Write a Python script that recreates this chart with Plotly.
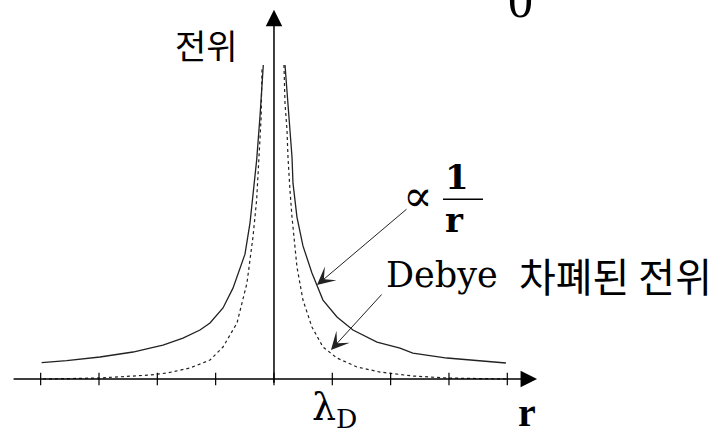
import plotly.graph_objects as go

# ---- data (r in units of lambda_D, V in arbitrary units) ----
coulomb_r = [-3.983, -3.554, -2.983, -2.417, -2.126, -1.903, -1.56, -1.269, -1.097, -0.874,
             -0.703, -0.497, -0.411, -0.297, -0.24, -0.183, None,
             0.189, 0.240, 0.274, 0.309, 0.326, 0.36, 0.394, 0.497, 0.651, 0.84, 1.08,
             1.354, 1.766, 2.16, 2.38, 2.966, 3.53, 3.976]
coulomb_v = [0.255, 0.286, 0.344, 0.422, 0.484, 0.531, 0.64, 0.766, 0.875, 1.11,
             1.42, 1.95, 2.44, 3.42, 4.10, 4.906, None,
             4.906, 4.31, 3.89, 3.47, 3.06, 2.80, 2.53, 2.08, 1.656, 1.234, 0.969,
             0.766, 0.578, 0.484, 0.406, 0.328, 0.281, 0.25]

debye_r = [-3.96, -2.983, -2.126, -1.834, -1.44, -1.097, -0.874, -0.634, -0.463, -0.36,
           -0.297, -0.22, -0.205, None,
           0.171, 0.189, 0.223, 0.24, 0.274, 0.309, 0.394, 0.497, 0.651, 0.84, 1.08,
           1.423, 1.817, 2.38, 2.966, 3.976]
debye_v = [0.0, 0.016, 0.0625, 0.094, 0.172, 0.297, 0.5, 0.875, 1.5, 2.22,
           2.80, 4.09, 4.88, None,
           4.906, 4.31, 3.89, 3.47, 2.95, 2.53, 1.75, 1.234, 0.8125, 0.5, 0.328,
           0.1875, 0.109, 0.047, 0.016, 0.0]

tick_values = [-4, -3, -2, -1, 0, 1, 2, 3, 4]

y_label = "전위"
x_label = "r"
debye_len_label = "λ<sub>D</sub>"
coulomb_label = "∝"
debye_word = "Debye"
screened_word = "차폐된\u00a0전위"
top_label = "0"

# ---- figure ----
fig = go.Figure()

fig.add_trace(go.Scatter(x=coulomb_r, y=coulomb_v, mode="lines",
                         line=dict(color="#222", width=1.3), connectgaps=False,
                         hoverinfo="skip", showlegend=False))
fig.add_trace(go.Scatter(x=debye_r, y=debye_v, mode="lines",
                         line=dict(color="#222", width=1.2, dash="3px,3px"), connectgaps=False,
                         hoverinfo="skip", showlegend=False))
fig.add_trace(go.Scatter(x=tick_values, y=[0] * len(tick_values), mode="markers",
                         marker=dict(symbol="line-ns", size=9,
                                     line=dict(color="black", width=1.2)),
                         hoverinfo="skip", showlegend=False))

annotations = []
# horizontal axis arrow
annotations.append(dict(x=4.51, y=0, ax=-4.49, ay=0, xref="x", yref="y", axref="x", ayref="y",
                        text="", showarrow=True, arrowhead=2, arrowsize=2.2, arrowwidth=1.5,
                        arrowcolor="black", standoff=0))
# vertical axis arrow
annotations.append(dict(x=0, y=5.77, ax=0, ay=-0.08, xref="x", yref="y", axref="x", ayref="y",
                        text="", showarrow=True, arrowhead=2, arrowsize=2.2, arrowwidth=1.5,
                        arrowcolor="black", standoff=0))
# pointer arrows
annotations.append(dict(x=0.737, y=1.469, ax=2.297, ay=2.672, xref="x", yref="y", axref="x", ayref="y",
                        text="", showarrow=True, arrowhead=3, arrowsize=3, arrowwidth=1,
                        arrowcolor="#222", standoff=0))
annotations.append(dict(x=0.977, y=0.453, ax=1.869, ay=1.344, xref="x", yref="y", axref="x", ayref="y",
                        text="", showarrow=True, arrowhead=3, arrowsize=3, arrowwidth=1,
                        arrowcolor="#222", standoff=0))

serif = "DejaVu Serif, Liberation Serif, serif"
annotations += [
    dict(x=-1.149, y=5.22, text=y_label, showarrow=False, xref="x", yref="y",
         font=dict(family="Noto Sans CJK KR", size=34, color="black")),
    dict(x=4.234, y=0.93, text=top_label, showarrow=False, xref="x", yref="paper",
         yanchor="bottom",
         font=dict(family="Liberation Serif", size=50, color="black")),
    dict(x=2.469, y=2.86, text=coulomb_label, showarrow=False, xref="x", yref="y",
         font=dict(family=serif, size=44, color="black")),
    dict(x=3.137, y=3.16, text="<b>1</b>", showarrow=False, xref="x", yref="y",
         font=dict(family=serif, size=34, color="black")),
    dict(x=3.103, y=2.48, text="<b>r</b>", showarrow=False, xref="x", yref="y",
         font=dict(family=serif, size=34, color="black")),
    dict(x=1.88, y=1.625, text=debye_word, showarrow=False, xref="x", yref="y",
         xanchor="left",
         font=dict(family=serif, size=35, color="black")),
    dict(x=4.17, y=1.625, text=screened_word, showarrow=False, xref="x", yref="y",
         xanchor="left",
         font=dict(family="Noto Sans CJK KR", size=40, color="black")),
    dict(x=0.62, y=-0.47, text=debye_len_label, showarrow=False, xref="x", yref="y",
         xanchor="left",
         font=dict(family=serif, size=38, color="black")),
    dict(x=4.337, y=-0.52, text="<b>" + x_label + "</b>", showarrow=False, xref="x", yref="y",
         font=dict(family="Liberation Serif", size=40, color="black")),
]

fig.update_layout(
    width=717, height=429,
    margin=dict(l=0, r=0, t=0, b=0),
    paper_bgcolor="white", plot_bgcolor="white",
    xaxis=dict(range=[-4.697, 7.595], visible=False, fixedrange=True),
    yaxis=dict(range=[-0.781, 5.922], visible=False, fixedrange=True),
    annotations=annotations,
    shapes=[dict(type="line", xref="x", yref="y", x0=2.897, x1=3.583, y0=2.81, y1=2.81,
                 line=dict(color="black", width=1.5))],
    showlegend=False,
)

fig.write_html("out.html", config={"displayModeBar": False, "staticPlot": True},
               post_script="document.body.style.margin='0px';document.body.style.overflow='hidden';")
